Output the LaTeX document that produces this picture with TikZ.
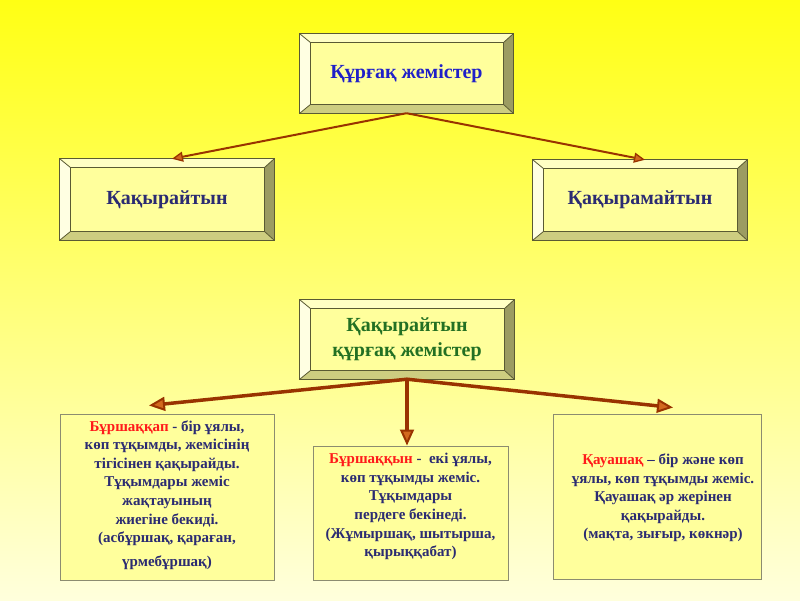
\documentclass[tikz,border=0pt]{standalone}
\usepackage{fontspec}
\setmainfont{Liberation Serif}
\usetikzlibrary{arrows.meta,calc}
\definecolor{bgtop}{HTML}{FFFF14}
\definecolor{bgbot}{HTML}{FFFFDC}
\definecolor{arrowc}{HTML}{993300}
\definecolor{headfill}{HTML}{D2691E}
\definecolor{bevtopc}{HTML}{FFFFC4}
\definecolor{bevleftc}{HTML}{FFFFE2}
\definecolor{bevrightc}{HTML}{9C9C62}
\definecolor{bevbotc}{HTML}{CDCD80}
\definecolor{bevface}{HTML}{FFFF9C}
\definecolor{bevline}{HTML}{5A5A33}
\definecolor{boxfill}{HTML}{FFFF9C}
\definecolor{boxline}{HTML}{8C8C70}
\definecolor{titleblue}{HTML}{2020C8}
\definecolor{navy}{HTML}{2B2B72}
\definecolor{darkgreen}{HTML}{237023}
\definecolor{termred}{HTML}{FF1A1A}
\pgfdeclarelayer{bg}
\pgfdeclarelayer{bevel}
\pgfsetlayers{bg,bevel,main}
\tikzset{
  bevnode/.style={minimum width=214pt, minimum height=80pt, inner sep=0pt, align=center,
    font=\bfseries\fontsize{20}{25}\selectfont},
  cbox/.style={draw=boxline, fill=boxfill, line width=1pt, inner sep=0pt},
  ctext/.style={align=center, inner sep=0pt, text=navy,
    font=\bfseries\fontsize{15}{18.6}\selectfont},
  arrA/.style={draw=arrowc, line width=2pt,
    -{Triangle[length=11pt, width=10pt, line width=1.3pt, fill=headfill]}},
  arrB/.style={draw=arrowc, line width=3.5pt,
    -{Triangle[length=16pt, width=14pt, line width=2pt, fill=headfill]}},
}
\newcommand\bevelit[1]{%
  \begin{pgfonlayer}{bevel}
  \fill[bevtopc] (#1.north west) -- (#1.north east) -- ($(#1.north east)+(-10,9)$) -- ($(#1.north west)+(11,9)$) -- cycle;
  \fill[bevleftc] (#1.north west) -- ($(#1.north west)+(11,9)$) -- ($(#1.south west)+(11,-9)$) -- (#1.south west) -- cycle;
  \fill[bevrightc] (#1.north east) -- (#1.south east) -- ($(#1.south east)+(-10,-9)$) -- ($(#1.north east)+(-10,9)$) -- cycle;
  \fill[bevbotc] (#1.south west) -- ($(#1.south west)+(11,-9)$) -- ($(#1.south east)+(-10,-9)$) -- (#1.south east) -- cycle;
  \fill[bevface] ($(#1.north west)+(11,9)$) rectangle ($(#1.south east)+(-10,-9)$);
  \draw[bevline, line width=0.8pt] (#1.north west) rectangle (#1.south east);
  \draw[bevline, line width=0.8pt] ($(#1.north west)+(11,9)$) rectangle ($(#1.south east)+(-10,-9)$);
  \draw[bevline, line width=0.8pt] (#1.north west) -- ($(#1.north west)+(11,9)$)
    (#1.north east) -- ($(#1.north east)+(-10,9)$)
    (#1.south west) -- ($(#1.south west)+(11,-9)$)
    (#1.south east) -- ($(#1.south east)+(-10,-9)$);
  \end{pgfonlayer}}
\begin{document}
\begin{tikzpicture}[x=1pt,y=-1pt]
\useasboundingbox (0,0) rectangle (800,600);
\begin{pgfonlayer}{bg}
\shade[top color=bgtop, bottom color=bgbot] (0,0) rectangle (800,600);
\end{pgfonlayer}

% level 0
\node[bevnode, minimum width=213pt, minimum height=79pt, text=titleblue] (top) at (406.5,73.5) {Құрғақ жемістер};
\bevelit{top}
% level 1
\node[bevnode, minimum height=81pt, text=navy] (q1) at (167,199.5) {Қақырайтын};
\bevelit{q1}
\node[bevnode, text=navy] (q2) at (640,200) {Қақырамайтын};
\bevelit{q2}
% level 2
\node[bevnode, minimum height=79pt, text=darkgreen] (g) at (407,339.5) {Қақырайтын\\құрғақ жемістер};
\bevelit{g}

% bottom boxes
\node[cbox, minimum width=214pt, minimum height=166pt] (b1) at (167,497) {};
\node[cbox, minimum width=195pt, minimum height=134pt] (b2) at (410.5,513) {};
\node[cbox, minimum width=208pt, minimum height=165pt] (b3) at (657,496.5) {};

\node[ctext] (b1t) at ($(b1.center)+(0,-2)$) {\textcolor{termred}{Бұршаққап} - бір ұялы,\\
көп тұқымды, жемісінің\\
тігісінен қақырайды.\\
Тұқымдары жеміс\\
жақтауының\\
жиегіне бекиді.\\
(асбұршақ, қараған,\\[5pt]
үрмебұршақ)};
\node[ctext] (b2t) at ($(b2.center)+(0,-6.5)$) {\textcolor{termred}{Бұршаққын} -\ \ екі ұялы,\\
көп тұқымды жеміс.\\
Тұқымдары\\
пердеге бекінеді.\\
(Жұмыршақ, шытырша,\\
қырыққабат)};
\node[ctext] (b3t) at ($(b3.center)+(6,1.5)$) {\textcolor{termred}{Қауашақ} – бір және көп\\
ұялы, көп тұқымды жеміс.\\
Қауашақ әр жерінен\\
қақырайды.\\
(мақта, зығыр, көкнәр)};

% connectors
\draw[arrA] (top.south) -- ([xshift=5pt]q1.north);
\draw[arrA] (top.south) -- ([xshift=5pt]q2.north);
\draw[arrB] (g.south) -- ([xshift=-18pt,yshift=8pt]b1.north);
\draw[arrB] (g.south) -- (g.south |- b2.north);
\draw[arrB] (g.south) -- ([xshift=16pt,yshift=6pt]b3.north);
\end{tikzpicture}
\end{document}
